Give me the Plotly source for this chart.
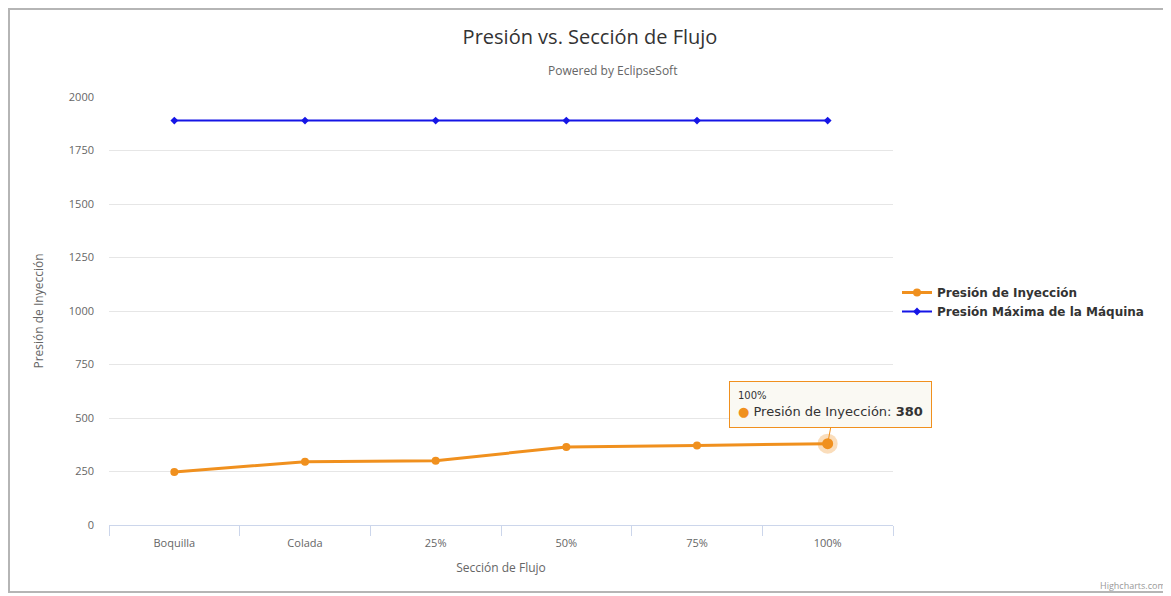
import plotly.graph_objects as go

# data
secciones = ["Boquilla", "Colada", "25%", "50%", "75%", "100%"]
presion_inyeccion = [248, 296, 300, 365, 372, 380]
presion_maxima = [1890, 1890, 1890, 1890, 1890, 1890]
y_ticks = [0, 250, 500, 750, 1000, 1250, 1500, 1750, 2000]

orange = "#f0901e"
blue = "#1515e6"
font = "Open Sans, DejaVu Sans, sans-serif"

fig = go.Figure()

fig.add_trace(go.Scatter(
    x=secciones, y=presion_inyeccion, name="Presión de Inyección",
    mode="lines+markers",
    line=dict(color=orange, width=3),
    marker=dict(color=orange, size=8, symbol="circle"),
))
fig.add_trace(go.Scatter(
    x=secciones, y=presion_maxima, name="Presión Máxima de la Máquina",
    mode="lines+markers",
    line=dict(color=blue, width=2),
    marker=dict(color=blue, size=6, symbol="diamond"),
))
# hover halo on the last point
fig.add_trace(go.Scatter(
    x=secciones[-1:], y=presion_inyeccion[-1:], mode="markers",
    marker=dict(color=orange, size=20, opacity=0.3), showlegend=False,
    hoverinfo="skip",
))
fig.add_trace(go.Scatter(
    x=secciones[-1:], y=presion_inyeccion[-1:], mode="markers",
    marker=dict(color=orange, size=11), showlegend=False, hoverinfo="skip",
))

# tooltip box
fig.add_annotation(
    x=secciones[-1], y=presion_inyeccion[-1], xref="x", yref="y",
    text=("<span style='font-size:10px'>" + secciones[-1] + "</span><br>"
          "<span style='color:%s'>●</span> Presión de Inyección: <b>%d</b>"
          % (orange, presion_inyeccion[-1])),
    showarrow=True, arrowhead=0, arrowwidth=1, arrowcolor=orange,
    ax=3, ay=-16, yanchor="bottom", align="left",
    bgcolor="rgba(250,249,242,0.92)", bordercolor=orange, borderwidth=1,
    borderpad=8, font=dict(family="DejaVu Sans, sans-serif", size=13, color="#333333"),
)

# subtitle and credits
fig.add_annotation(
    text="Powered by EclipseSoft", xref="paper", yref="paper",
    x=(612 - 109) / 784, y=(525 - 71) / 428, yanchor="middle", showarrow=False,
    font=dict(family=font, size=12, color="#666666"),
)
fig.add_annotation(
    text="Highcharts.com", xref="paper", yref="paper",
    x=(1168 - 109) / 784, y=(525 - 585) / 428, xanchor="right", yanchor="middle",
    showarrow=False, font=dict(family=font, size=9, color="#999999"),
)

# grey screenshot frame
fig.add_shape(type="rect", xref="paper", yref="paper",
              x0=(9 - 109) / 784, x1=1.5, y0=(525 - 592) / 428, y1=(525 - 9) / 428,
              line=dict(color="#b5b5b5", width=2), layer="below")

# page body has an 8px margin, so the figure is drawn 8px lower and to the right
fig.update_layout(
    width=1163, height=588,
    margin=dict(l=101, r=278, t=89, b=71, autoexpand=False),
    paper_bgcolor="white", plot_bgcolor="white",
    title=dict(text="Presión vs. Sección de Flujo", x=(590 - 8) / 1163, xanchor="center",
               y=1 - (37 - 8) / 588, yanchor="middle",
               font=dict(family=font, size=20, color="#333333")),
    font=dict(family=font, size=11, color="#666666"),
    legend=dict(x=(897 - 109) / 784, y=(525 - 278) / 428, xanchor="left", yanchor="top",
                font=dict(family="DejaVu Sans, sans-serif", size=12, color="#333333",
                          weight="bold"),
                traceorder="normal", itemwidth=30, tracegroupgap=0,
                bgcolor="rgba(0,0,0,0)"),
    hovermode=False,
)
fig.update_xaxes(
    title=dict(text="Sección de Flujo", font=dict(size=12, color="#666666"), standoff=14),
    range=[-0.5, len(secciones) - 0.5],
    showgrid=False, showline=True, linecolor="#ccd6eb",
    ticks="outside", tickson="boundaries", ticklen=10, tickcolor="#ccd6eb",
    ticklabelstandoff=8, tickfont=dict(size=11, color="#666666"), automargin=False,
)
fig.update_yaxes(
    title=dict(text="Presión de Inyección", font=dict(size=12, color="#666666"), standoff=22),
    range=[0, 2000], tickvals=y_ticks, showgrid=True, gridcolor="#e6e6e6",
    zeroline=False, showline=False, ticklabelstandoff=14,
    tickfont=dict(size=11, color="#666666"), automargin=False,
)

fig.write_html("out.html")
